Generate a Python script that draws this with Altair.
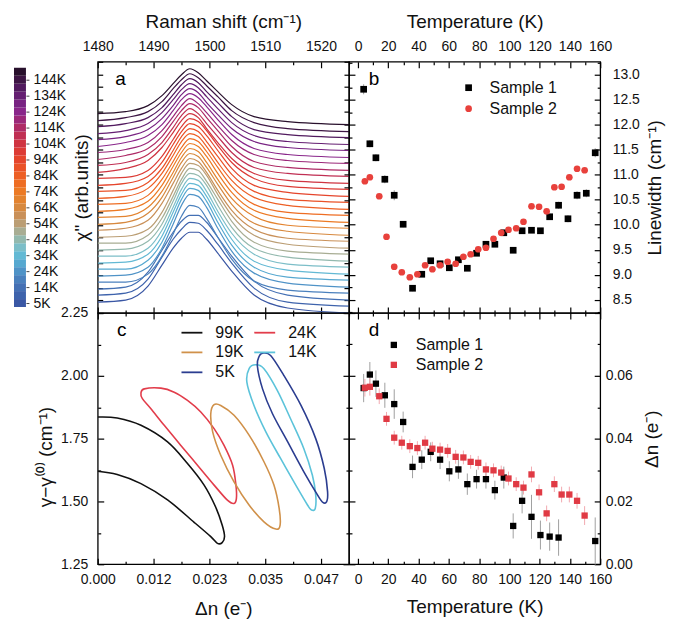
import altair as alt
import pandas as pd

FONT = "Liberation Sans"

# ---------------- panel a: Raman spectra (offset), arbitrary units ----------------
raman_x = [1480, 1485, 1489, 1491.5, 1493.5, 1495, 1496.5, 1498, 1499.5, 1501.5, 1504, 1508, 1514, 1525]
spec_temps = [5, 9, 14, 19, 24, 29, 34, 39, 44, 49, 54, 59, 64, 69, 74, 79, 84, 89, 94, 99,
              104, 109, 114, 119, 124, 129, 134, 139, 144, 149]
spectra = [
    [11, 13, 27, 48, 65, 75, 81, 81, 74, 60, 42, 18, 5, 0],
    [18, 20, 34, 56, 74, 84, 91, 90, 83, 69, 50, 25, 11, 7],
    [24, 26, 41, 63, 81, 92, 98, 98, 91, 76, 57, 32, 18, 13],
    [31, 31, 39, 57, 79, 97, 108, 106, 95, 76, 54, 32, 23, 20],
    [37, 38, 46, 65, 89, 108, 119, 117, 106, 85, 62, 40, 30, 26],
    [44, 44, 53, 71, 95, 114, 125, 123, 112, 91, 68, 46, 36, 33],
    [50, 51, 59, 77, 101, 119, 130, 128, 117, 97, 74, 52, 43, 39],
    [57, 57, 65, 83, 106, 124, 135, 133, 122, 102, 80, 59, 49, 46],
    [63, 64, 72, 89, 112, 130, 140, 138, 128, 108, 86, 65, 56, 52],
    [70, 70, 78, 95, 117, 134, 145, 143, 132, 114, 92, 71, 62, 59],
    [76, 77, 84, 101, 123, 140, 150, 148, 138, 119, 98, 78, 69, 65],
    [83, 85, 93, 110, 130, 145, 155, 152, 141, 123, 103, 84, 75, 72],
    [89, 91, 100, 116, 136, 151, 160, 157, 146, 129, 109, 90, 82, 78],
    [96, 97, 106, 122, 141, 156, 165, 162, 151, 134, 115, 97, 88, 85],
    [102, 104, 112, 128, 147, 161, 170, 167, 157, 140, 121, 103, 95, 91],
    [109, 110, 118, 134, 152, 166, 175, 172, 162, 146, 127, 109, 101, 98],
    [115, 117, 125, 140, 158, 172, 180, 177, 167, 151, 133, 116, 108, 104],
    [122, 123, 131, 145, 163, 177, 185, 182, 172, 157, 139, 122, 114, 111],
    [128, 130, 137, 151, 169, 182, 190, 187, 178, 163, 145, 128, 121, 117],
    [135, 136, 143, 157, 174, 187, 195, 192, 183, 168, 151, 135, 127, 124],
    [141, 145, 153, 166, 181, 193, 200, 196, 185, 171, 155, 140, 133, 130],
    [148, 151, 159, 171, 186, 198, 205, 200, 190, 177, 161, 146, 140, 137],
    [154, 158, 165, 177, 192, 203, 210, 206, 196, 183, 167, 152, 146, 143],
    [161, 164, 171, 183, 197, 208, 215, 210, 201, 188, 173, 159, 153, 150],
    [167, 171, 178, 189, 203, 214, 220, 216, 207, 194, 179, 165, 159, 156],
    [174, 177, 184, 195, 208, 219, 225, 221, 211, 199, 185, 172, 166, 163],
    [180, 183, 190, 201, 214, 224, 230, 226, 217, 205, 191, 178, 172, 169],
    [187, 190, 196, 206, 219, 229, 235, 231, 222, 211, 197, 184, 179, 176],
    [193, 196, 202, 212, 225, 234, 240, 236, 228, 217, 203, 191, 185, 182],
    [200, 202, 208, 218, 230, 239, 245, 241, 233, 222, 209, 197, 192, 189],
]
cbar_colors = ["#3a57a4", "#3e63ac", "#4470b4", "#4a80bd", "#4f93c7", "#56a8d0", "#63b9d4", "#7cbec8",
               "#93b9ae", "#a8ad93", "#bb9e74", "#c99058", "#d7893f", "#e3832f", "#ec7a25", "#ee6d23",
               "#ed5f25", "#ea5228", "#e5452c", "#dc3b35", "#cf3441", "#c02f53", "#ae2b66", "#9b2879",
               "#89268a", "#782382", "#651f72", "#511a5e", "#3d1544", "#28102c"]
cbar_labels = ["5K", "14K", "24K", "34K", "44K", "54K", "64K", "74K", "84K", "94K",
               "104K", "114K", "124K", "134K", "144K"]

# ---------------- panel b: linewidth ----------------
b_s1_T = [3.7, 7.8, 11.8, 17.7, 23.9, 29.8, 36.0, 42.1, 48.0, 54.2, 60.3, 66.3, 72.2, 78.3, 84.5,
          90.4, 96.3, 102.5, 108.4, 114.6, 120.5, 126.6, 132.5, 138.7, 144.7, 150.8, 156.7]
b_s1_LW = [12.71, 11.62, 11.34, 10.91, 10.59, 10.01, 8.73, 9.01, 9.28, 9.22, 9.14, 9.30, 9.13, 9.43, 9.61,
           9.61, 9.84, 9.49, 9.88, 9.89, 9.88, 10.16, 10.39, 10.12, 10.59, 10.63, 11.44]
b_s1_err = [0.10, 0.07, 0.07, 0.08, 0.10, 0.06, 0.06, 0.05, 0.05, 0.05, 0.05, 0.05, 0.05, 0.05, 0.05,
            0.05, 0.05, 0.05, 0.05, 0.05, 0.05, 0.05, 0.07, 0.07, 0.08, 0.08, 0.09]
b_s2_T = [4.5, 7.8, 14.0, 18.8, 23.9, 28.9, 34.2, 39.2, 44.3, 49.1, 54.2, 59.2, 64.5, 69.6, 74.4,
          79.4, 84.5, 89.5, 94.6, 99.4, 104.5, 109.3, 114.6, 119.6, 124.6, 129.7, 134.5, 139.6, 144.7, 149.7]
b_s2_LW = [10.87, 10.95, 10.57, 9.76, 9.16, 9.05, 8.95, 9.01, 9.19, 9.11, 9.19, 9.26, 9.22, 9.36, 9.41,
           9.51, 9.54, 9.72, 9.84, 9.90, 9.93, 10.06, 10.37, 10.36, 10.27, 10.75, 10.76, 10.95, 11.12, 11.09]

# ---------------- panel c: confidence contours ----------------
c_names = ["99K", "24K", "19K", "14K", "5K"]
c_colors = ["#111111", "#e23d4b", "#d0914a", "#5cc3da", "#2b3d90"]
c_99K = [(0.0, 1.836), (0.0041, 1.832), (0.0091, 1.803), (0.0147, 1.737), (0.0189, 1.651), (0.0224, 1.565),
         (0.0248, 1.479), (0.0262, 1.406), (0.0267, 1.360), (0.0262, 1.336), (0.0252, 1.333), (0.0238, 1.360),
         (0.0203, 1.417), (0.0147, 1.506), (0.0091, 1.571), (0.0041, 1.607), (0.0, 1.620)]
c_24K = [(0.0098, 1.948), (0.0133, 1.951), (0.0161, 1.935), (0.0189, 1.902), (0.0217, 1.856), (0.0245, 1.790),
         (0.0266, 1.723), (0.0284, 1.644), (0.0291, 1.565), (0.0292, 1.512), (0.0287, 1.492), (0.0273, 1.505),
         (0.0245, 1.565), (0.0210, 1.644), (0.0175, 1.723), (0.0140, 1.803), (0.0112, 1.869), (0.0094, 1.909),
         (0.0091, 1.931)]
c_19K = [(0.0245, 1.885), (0.0259, 1.882), (0.0287, 1.843), (0.0319, 1.763), (0.0350, 1.658), (0.0371, 1.565),
         (0.0382, 1.472), (0.0384, 1.406), (0.0375, 1.390), (0.0350, 1.419), (0.0319, 1.485), (0.0287, 1.578),
         (0.0259, 1.684), (0.0242, 1.777), (0.0238, 1.849)]
c_14K = [(0.0333, 2.044), (0.0350, 2.028), (0.0378, 1.942), (0.0406, 1.829), (0.0434, 1.710), (0.0452, 1.604),
         (0.0459, 1.525), (0.0458, 1.472), (0.0450, 1.466), (0.0442, 1.485), (0.0417, 1.565), (0.0385, 1.671),
         (0.0354, 1.777), (0.0329, 1.882), (0.0314, 1.975), (0.0319, 2.030)]
c_5K = [(0.0347, 2.090), (0.0364, 2.081), (0.0392, 2.001), (0.0428, 1.882), (0.0459, 1.750), (0.0477, 1.631),
        (0.0484, 1.538), (0.0482, 1.499), (0.0474, 1.496), (0.0463, 1.525), (0.0434, 1.618), (0.0400, 1.737),
        (0.0368, 1.849), (0.0347, 1.948), (0.0336, 2.041), (0.0340, 2.078)]

# ---------------- panel d: charge transfer ----------------
d_s1_T = [3.7, 7.8, 11.8, 17.7, 23.9, 29.8, 36.0, 42.1, 48.0, 54.2, 60.3, 66.3, 72.2, 78.3, 84.5,
          90.4, 96.3, 102.5, 108.4, 114.6, 120.5, 126.6, 132.5, 156.7]
d_s1_dn = [0.0561, 0.0604, 0.0575, 0.0538, 0.0510, 0.0453, 0.0310, 0.0333, 0.0358, 0.0333, 0.0296, 0.0302,
           0.0255, 0.0271, 0.0271, 0.0236, 0.0276, 0.0122, 0.0202, 0.0151, 0.0093, 0.0088, 0.0085, 0.0074]
d_s1_err = [0.0045, 0.0040, 0.0042, 0.0040, 0.0047, 0.0033, 0.0036, 0.0030, 0.0030, 0.0030, 0.0032, 0.0030,
            0.0034, 0.0030, 0.0030, 0.0030, 0.0035, 0.0040, 0.0040, 0.0070, 0.0046, 0.0045, 0.0058, 0.0075]
d_s2_T = [4.5, 7.8, 14.0, 18.8, 23.9, 28.9, 34.2, 39.2, 44.3, 49.1, 54.2, 59.2, 64.5, 69.6, 74.4,
          79.4, 84.5, 89.5, 94.6, 99.4, 104.5, 109.3, 114.6, 119.6, 124.6, 129.7, 134.5, 139.6, 144.7, 149.7]
d_s2_dn = [0.0562, 0.0565, 0.0535, 0.0463, 0.0403, 0.0387, 0.0376, 0.0370, 0.0387, 0.0368, 0.0365, 0.0361,
           0.0342, 0.0340, 0.0326, 0.0323, 0.0302, 0.0299, 0.0292, 0.0273, 0.0255, 0.0244, 0.0286, 0.0229,
           0.0162, 0.0255, 0.0222, 0.0222, 0.0202, 0.0155]
d_s2_err = [0.0028, 0.0028, 0.0025, 0.0022, 0.0022, 0.0022, 0.0022, 0.0022, 0.0022, 0.0022, 0.0022, 0.0022,
            0.0022, 0.0022, 0.0022, 0.0022, 0.0022, 0.0022, 0.0022, 0.0022, 0.0022, 0.0022, 0.0025, 0.0025,
            0.0025, 0.0025, 0.0025, 0.0025, 0.0025, 0.0030]

# panel letters (data coordinates)
letters = {"a": (1484.1, 229), "b": (10.5, 12.8), "c": (0.00505, 2.159), "d": (10.5, 0.0727)}

W = H = 252


def mk_axis(orient, values, major, labels=None, label_test=None, title=None, pad=16, tpad=6,
            ml=6, mn=3, **kw):
    d = dict(orient=orient, values=values,
             tickSize={"expr": f"({major}) ? {-ml} : {-mn}"},
             tickWidth=1.2, tickColor="black", domain=False, grid=False,
             labelFlush=False, labelOverlap=False)
    if labels is None:
        d["labels"] = False
    else:
        lt = label_test or major
        d["labelExpr"] = f"({lt}) ? {labels} : ''"
        d["labelPadding"] = pad
    d["title"] = title
    if title is not None:
        d["titlePadding"] = tpad
    d.update(kw)
    return alt.Axis(**d)


def letter_layer(key, xs, ys):
    x, y = letters[key]
    df = pd.DataFrame({"x": [x], "y": [y], "t": [key]})
    return alt.Chart(df).mark_text(font=FONT, fontSize=19, color="black", align="center",
                                   baseline="alphabetic").encode(
        x=alt.X("x:Q", scale=xs, axis=None), y=alt.Y("y:Q", scale=ys, axis=None), text="t:N")


# ================= panel a =================
rows = []
for t, ys in zip(spec_temps, spectra):
    for j, (x, y) in enumerate(zip(raman_x, ys)):
        rows.append({"T": f"{t}K", "x": x, "y": y, "o": j})
spec_df = pd.DataFrame(rows)
temp_scale = alt.Scale(domain=[f"{t}K" for t in spec_temps], range=cbar_colors)

xa = alt.Scale(domain=[1480, 1525], nice=False, zero=False)
ya = alt.Scale(domain=[0, 252], nice=False, zero=False)
a_xvals = list(range(1480, 1526, 5))
a_yvals = [round(12.6 * k, 2) for k in range(21)]
ax_major = "datum.value % 10 == 0"

a_lines = alt.Chart(spec_df).mark_line(strokeWidth=1.2, interpolate="monotone", clip=True).encode(
    x=alt.X("x:Q", scale=xa, axis=mk_axis("top", a_xvals, ax_major, labels="format(datum.value, 'd')",
                                          title="Raman shift (cm⁻¹)", pad=14, tpad=5)),
    y=alt.Y("y:Q", scale=ya, axis=mk_axis("left", a_yvals, "true", title='χ" (arb.units)', tpad=6, ml=5)),
    color=alt.Color("T:N", scale=temp_scale, legend=None),
    order=alt.Order("o:Q"),
)
a_ghost = alt.Chart(spec_df).mark_point(opacity=0).encode(
    x=alt.X("x:Q", scale=xa, axis=mk_axis("bottom", a_xvals, ax_major)),
    y=alt.Y("y:Q", scale=ya, axis=mk_axis("right", a_yvals, "true", ml=5)),
)
panel_a = alt.layer(a_lines, a_ghost, letter_layer("a", xa, ya)).resolve_axis(
    x="independent", y="independent").properties(width=W, height=H)

# ================= panel b =================
xT = alt.Scale(domain=[-6, 160], nice=False, zero=False)
yb = alt.Scale(domain=[8.235, 13.26], nice=False, zero=False)
T_vals = list(range(0, 161, 10))
T_major = "datum.value % 20 == 0"
b_yvals = [8.25 + 0.25 * k for k in range(21)]
b_major = "abs(datum.value * 2 - round(datum.value * 2)) < 0.01"

b_df = pd.DataFrame({"T": b_s1_T + b_s2_T, "LW": b_s1_LW + b_s2_LW,
                     "s": ["Sample 1"] * len(b_s1_T) + ["Sample 2"] * len(b_s2_T)})
b_err_df = pd.DataFrame({"T": b_s1_T,
                         "lo": [v - e for v, e in zip(b_s1_LW, b_s1_err)],
                         "hi": [v + e for v, e in zip(b_s1_LW, b_s1_err)]})
b_col = alt.Scale(domain=["Sample 1", "Sample 2"], range=["#000000", "#e8413c"])
b_shp = alt.Scale(domain=["Sample 1", "Sample 2"], range=["square", "circle"])
b_leg = alt.Legend(orient="none", legendX=112, legendY=18, title=None, labelFontSize=16,
                   labelOffset=13, symbolSize=45, rowPadding=5, padding=0)

b_err = alt.Chart(b_err_df).mark_rule(color="#9a9a9a", strokeWidth=1).encode(
    x=alt.X("T:Q", scale=xT, axis=None), y=alt.Y("lo:Q", scale=yb, axis=None), y2="hi:Q")
b_pts = alt.Chart(b_df).mark_point(filled=True, size=45, opacity=1).encode(
    x=alt.X("T:Q", scale=xT, axis=mk_axis("top", T_vals, T_major, labels="format(datum.value, 'd')",
                                          title="Temperature (K)", pad=14, tpad=5)),
    y=alt.Y("LW:Q", scale=yb, axis=mk_axis("right", b_yvals, b_major, labels="format(datum.value, '.1f')",
                                           title="Linewidth (cm⁻¹)", pad=18, tpad=6, titleAngle=270,
                                           titleBaseline="top")),
    color=alt.Color("s:N", scale=b_col, legend=b_leg),
    shape=alt.Shape("s:N", scale=b_shp, legend=b_leg),
)
b_ghost = alt.Chart(b_df).mark_point(opacity=0).encode(
    x=alt.X("T:Q", scale=xT, axis=mk_axis("bottom", T_vals, T_major)),
    y=alt.Y("LW:Q", scale=yb, axis=mk_axis("left", b_yvals, b_major)),
)
panel_b = alt.layer(b_err, b_pts, b_ghost, letter_layer("b", xT, yb)).resolve_axis(
    x="independent", y="independent").properties(width=W, height=H)

# ================= panel c =================
xc = alt.Scale(domain=[0, 0.0529], nice=False, zero=False)
yc = alt.Scale(domain=[1.25, 2.25], nice=False, zero=False)
c_xvals = [0.005875 * k for k in range(10)]
c_xmajor = "round(datum.value / 0.005875) % 2 == 0"
c_yvals = [1.25 + 0.125 * k for k in range(9)]
c_ymajor = "abs(datum.value * 4 - round(datum.value * 4)) < 0.01"

closed_rows = []
for name, pts in [("24K", c_24K), ("19K", c_19K), ("14K", c_14K), ("5K", c_5K)]:
    for j, (x, y) in enumerate(pts):
        closed_rows.append({"name": name, "dn": x, "g": y, "o": j})
closed_df = pd.DataFrame(closed_rows)
open_df = pd.DataFrame({"name": "99K", "dn": [p[0] for p in c_99K], "g": [p[1] for p in c_99K],
                        "o": list(range(len(c_99K)))})
c_col = alt.Scale(domain=c_names, range=c_colors)
c_leg = alt.Legend(orient="none", legendX=83, legendY=8, title=None, columns=2, direction="horizontal",
                   symbolType="stroke", symbolSize=440, symbolStrokeWidth=1.8, labelFontSize=16,
                   labelOffset=12, columnPadding=6, rowPadding=0, padding=0)

c_closed = alt.Chart(closed_df).mark_line(strokeWidth=1.6, interpolate="cardinal-closed", clip=True).encode(
    x=alt.X("dn:Q", scale=xc, axis=mk_axis("bottom", c_xvals, c_xmajor,
                                           labels="format(floor(datum.value * 1000 + 0.4) / 1000, '.3f')",
                                           title="Δn  (e⁻)", pad=14, tpad=10)),
    y=alt.Y("g:Q", scale=yc, axis=mk_axis("left", c_yvals, c_ymajor, labels="format(datum.value, '.2f')",
                                          title="γ−γ⁽⁰⁾  (cm⁻¹)", pad=16, tpad=5, titleY=144)),
    color=alt.Color("name:N", scale=c_col, legend=c_leg),
    order=alt.Order("o:Q"),
)
c_open = alt.Chart(open_df).mark_line(strokeWidth=1.6, interpolate="cardinal", clip=True).encode(
    x=alt.X("dn:Q", scale=xc, axis=None),
    y=alt.Y("g:Q", scale=yc, axis=None),
    color=alt.Color("name:N", scale=c_col, legend=c_leg),
    order=alt.Order("o:Q"),
)
c_ghost = alt.Chart(closed_df).mark_point(opacity=0).encode(
    x=alt.X("dn:Q", scale=xc, axis=mk_axis("top", c_xvals, c_xmajor)),
    y=alt.Y("g:Q", scale=yc, axis=mk_axis("right", c_yvals, c_ymajor)),
)
panel_c = alt.layer(c_closed, c_open, c_ghost, letter_layer("c", xc, yc)).resolve_axis(
    x="independent", y="independent").properties(width=W, height=H)

# ================= panel d =================
yd = alt.Scale(domain=[0, 0.08], nice=False, zero=False)
d_yvals = [0.01 * k for k in range(9)]
d_major = "round(datum.value * 100) % 2 == 0"

d_df = pd.DataFrame({"T": d_s1_T + d_s2_T, "dn": d_s1_dn + d_s2_dn,
                     "s": ["Sample 1"] * len(d_s1_T) + ["Sample 2"] * len(d_s2_T)})
d_err1_df = pd.DataFrame({"T": d_s1_T,
                          "lo": [v - e for v, e in zip(d_s1_dn, d_s1_err)],
                          "hi": [v + e for v, e in zip(d_s1_dn, d_s1_err)]})
d_err2_df = pd.DataFrame({"T": d_s2_T,
                          "lo": [v - e for v, e in zip(d_s2_dn, d_s2_err)],
                          "hi": [v + e for v, e in zip(d_s2_dn, d_s2_err)]})
d_col = alt.Scale(domain=["Sample 1", "Sample 2"], range=["#000000", "#e03a44"])
d_leg = alt.Legend(orient="none", legendX=37, legendY=24, title=None, labelFontSize=16,
                   labelOffset=14, symbolSize=40, symbolType="square", rowPadding=4, padding=0)

d_err1 = alt.Chart(d_err1_df).mark_rule(strokeWidth=1, color="#a0a0a0").encode(
    x=alt.X("T:Q", scale=xT, axis=None), y=alt.Y("lo:Q", scale=yd, axis=None), y2="hi:Q")
d_err2 = alt.Chart(d_err2_df).mark_rule(strokeWidth=1, color="#f2a9b0").encode(
    x=alt.X("T:Q", scale=xT, axis=None), y=alt.Y("lo:Q", scale=yd, axis=None), y2="hi:Q")
d_pts = alt.Chart(d_df).mark_point(filled=True, size=40, shape="square", opacity=1).encode(
    x=alt.X("T:Q", scale=xT, axis=mk_axis("bottom", T_vals, T_major, labels="format(datum.value, 'd')",
                                          title="Temperature (K)", pad=14, tpad=8)),
    y=alt.Y("dn:Q", scale=yd, axis=mk_axis("right", d_yvals, d_major, labels="format(datum.value, '.2f')",
                                           label_test=f"{d_major} && datum.value < 0.075",
                                           title="Δn  (e⁻)", pad=11, tpad=10, titleAngle=270,
                                           titleBaseline="top")),
    color=alt.Color("s:N", scale=d_col, legend=d_leg),
)
d_ghost = alt.Chart(d_df).mark_point(opacity=0).encode(
    x=alt.X("T:Q", scale=xT, axis=mk_axis("top", T_vals, T_major)),
    y=alt.Y("dn:Q", scale=yd, axis=mk_axis("left", d_yvals, d_major)),
)
panel_d = alt.layer(d_err1, d_err2, d_pts, d_ghost, letter_layer("d", xT, yd)).resolve_axis(
    x="independent", y="independent").properties(width=W, height=H)

# ================= colour bar =================
cb_df = pd.DataFrame({"i": list(range(30)), "i1": list(range(1, 31)),
                      "T": [f"{t}K" for t in spec_temps], "x0": 0, "x1": 1})
cb_expr = "[" + ",".join(f"'{s}'" for s in cbar_labels) + "][round((datum.value - 0.5) / 2)]"
cbar = alt.Chart(cb_df).mark_rect().encode(
    x=alt.X("x0:Q", scale=alt.Scale(domain=[0, 1], nice=False), axis=None),
    x2="x1:Q",
    y=alt.Y("i:Q", scale=alt.Scale(domain=[-0.75, 30.75], nice=False, zero=False),
            axis=alt.Axis(orient="right", values=[0.5 + 2 * k for k in range(15)], labelExpr=cb_expr,
                          tickSize=3, tickWidth=1, tickColor="#444444", labelPadding=4, domain=False,
                          grid=False, title=None, labelOverlap=False, labelFlush=False)),
    y2="i1:Q",
    color=alt.Color("T:N", scale=temp_scale, legend=None),
).properties(width=12, height=H, view=alt.ViewBackground(stroke="transparent"))

IND = dict(color="independent", shape="independent")

grid = alt.concat(panel_a, panel_b, panel_c, panel_d, columns=2, spacing=0, bounds="flush"
                  ).resolve_scale(**IND).resolve_legend(**IND)

chart = alt.hconcat(cbar, grid, spacing=72, bounds="flush").resolve_scale(**IND).resolve_legend(
    **IND
).properties(
    padding={"left": 5, "top": 3, "right": 5, "bottom": 5}
).configure_view(
    stroke="black", strokeWidth=1.3
).configure_axis(
    labelFont=FONT, titleFont=FONT, labelFontSize=14, titleFontSize=19, titleFontWeight="normal",
    labelColor="#111111", titleColor="#111111"
).configure_legend(
    labelFont=FONT, labelColor="#111111"
)

chart.save("out.html", embed_options={"renderer": "svg", "actions": False})
